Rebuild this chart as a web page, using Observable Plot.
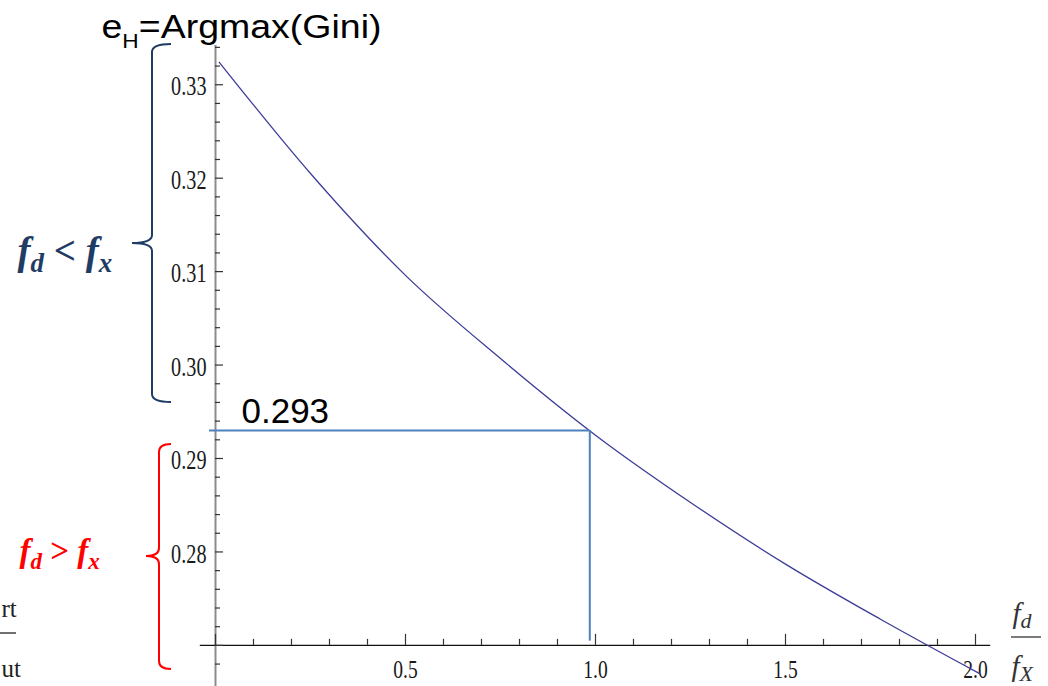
<!DOCTYPE html>
<html><head><meta charset="utf-8">
<script src="https://cdn.jsdelivr.net/npm/d3@7"></script>
<script src="https://cdn.jsdelivr.net/npm/@observablehq/plot@0.6"></script>
<style>
body{margin:0;background:#fff;}
#chart{position:relative;width:1048px;height:686px;overflow:hidden;background:#fff}
</style>
</head><body><div id="chart"></div>
<script>
// ---- data ----
const ratioX     = [0.01, 0.25, 0.5, 0.75, 1.0, 1.25, 1.5, 1.75, 2.01];
const giniArgmax = [0.3324, 0.3205, 0.3096, 0.3007, 0.2925, 0.2853, 0.2787, 0.2728, 0.2670];
const xMajorTicks = [0, 0.5, 1.0, 1.5, 2.0];
const xMinorTicks = [0.1,0.2,0.3,0.4,0.6,0.7,0.8,0.9,1.1,1.2,1.3,1.4,1.6,1.7,1.8,1.9];
const xTickValues = [0.5, 1.0, 1.5, 2.0];
const xTickLabels = ["0.5", "1.0", "1.5", "2.0"];
const yMajorTicks = [0.27, 0.28, 0.29, 0.30, 0.31, 0.32, 0.33];
const yMinorTicks = [0.268,0.272,0.274,0.276,0.278,0.282,0.284,0.286,0.288,0.292,0.294,0.296,0.298,
                     0.302,0.304,0.306,0.308,0.312,0.314,0.316,0.318,0.322,0.324,0.326,0.328,0.332,0.334];
const yTickValues = [0.28, 0.29, 0.30, 0.31, 0.32, 0.33];
const yTickLabels = ["0.28", "0.29", "0.30", "0.31", "0.32", "0.33"];
const markX = 0.985, markY = 0.293, markLabel = "0.293";
const titleParts = [["e",0],["H",1],["=Argmax(Gini)",0]];
const upperParts = [["f",0],["d",1],[" < ",0],["f",0],["x",1]];
const lowerParts = [["f",0],["d",1],[" > ",0],["f",0],["x",1]];
const numParts   = [["f",0],["d",1]];
const denParts   = [["f",0],["X",1]];

const curve = ratioX.map((x, i) => ({x, y: giniArgmax[i]}));
const ML = 199.8, MT = 45;
const at = (ax, ay) => ({frameAnchor: "top-left", dx: ax - ML, dy: ay - MT});
const join = p => p.map(d => d[0]).join("");
const serif = "'Liberation Serif','Times New Roman',serif";
const sans = "'Liberation Sans',Arial,sans-serif";

const plot = Plot.plot({
  width: 1048, height: 686,
  marginLeft: ML, marginRight: 57.8, marginTop: MT, marginBottom: 0,
  x: {domain: [-0.04, 2.04], axis: null},
  y: {domain: [0.2656, 0.3342], axis: null},
  style: {background: "#fff", overflow: "visible"},
  marks: [
    // axes
    Plot.ruleX([0], {y1: 0.2656, y2: 0.3342, stroke: "#8c8c8c", strokeWidth: 2}),
    Plot.ruleY([0.27], {x1: -0.04, x2: 2.04, stroke: "#111", strokeWidth: 1.3}),
    Plot.ruleX(xMinorTicks, {y1: 0.27, y2: 0.27, insetTop: -6, stroke: "#333", strokeWidth: 1.2}),
    Plot.ruleX(xMajorTicks, {y1: 0.27, y2: 0.27, insetTop: -11, stroke: "#333", strokeWidth: 1.2}),
    Plot.ruleY(yMinorTicks, {x1: 0, x2: 0, insetRight: -5, stroke: "#333", strokeWidth: 1.2}),
    Plot.ruleY(yMajorTicks, {x1: 0, x2: 0, insetRight: -8, stroke: "#333", strokeWidth: 1.2}),
    Plot.text(xTickValues, {x: d => d, y: 0.27, text: (d, i) => xTickLabels[i], lineAnchor: "bottom", dy: 33,
      fontFamily: serif, fontSize: 26, fill: "#1a1a1a", ariaDescription: "xticklabels"}),
    Plot.text(yTickValues, {x: 0, y: d => d, text: (d, i) => yTickLabels[i], textAnchor: "end", dx: -9, dy: 2,
      fontFamily: serif, fontSize: 27, fill: "#1a1a1a", ariaDescription: "yticklabels"}),
    // the curve
    Plot.line(curve, {x: "x", y: "y", stroke: "#3d3d99", strokeWidth: 1.3, curve: "monotone-x"}),
    // marker lines
    Plot.ruleY([markY], {x1: -0.0158, x2: markX, stroke: "#4f81bd", strokeWidth: 2}),
    Plot.ruleX([markX], {y1: markY, y2: 0.27045, stroke: "#4f81bd", strokeWidth: 2}),
    Plot.text([markLabel], {...at(241, 422), text: d => d, textAnchor: "start", lineAnchor: "bottom",
      fontFamily: sans, fontSize: 35, fill: "#000"}),
    // annotations
    Plot.text([join(titleParts)], {...at(101, 37), text: d => d, textAnchor: "start", lineAnchor: "bottom",
      fontFamily: sans, fontSize: 33, fill: "#000", ariaDescription: "title"}),
    Plot.text([join(upperParts)], {...at(17, 263), text: d => d, textAnchor: "start", lineAnchor: "bottom",
      fontFamily: serif, fontSize: 39, fontWeight: "bold", fontStyle: "italic", fill: "#1f3c64", ariaDescription: "upper"}),
    Plot.text([join(lowerParts)], {...at(19, 561), text: d => d, textAnchor: "start", lineAnchor: "bottom",
      fontFamily: serif, fontSize: 33, fontWeight: "bold", fontStyle: "italic", fill: "#ff0000", ariaDescription: "lower"}),
    Plot.text([join(numParts)], {...at(1012, 622), text: d => d, textAnchor: "start", lineAnchor: "bottom",
      fontFamily: serif, fontSize: 29, fontStyle: "italic", fill: "#333", ariaDescription: "num"}),
    Plot.text([join(denParts)], {...at(1011, 675), text: d => d, textAnchor: "start", lineAnchor: "bottom",
      fontFamily: serif, fontSize: 29, fontStyle: "italic", fill: "#333", ariaDescription: "den"}),
    Plot.text(["rt"], {...at(1, 616), text: d => d, textAnchor: "start", lineAnchor: "bottom",
      fontFamily: serif, fontSize: 25, fill: "#222"}),
    Plot.text(["ut"], {...at(1, 676), text: d => d, textAnchor: "start", lineAnchor: "bottom",
      fontFamily: serif, fontSize: 25, fill: "#222"})
  ]
});
document.getElementById("chart").appendChild(plot);

const NS = "http://www.w3.org/2000/svg";
function findText(label) {
  return plot.querySelector(`g[aria-description="${label}"] text`) || plot.querySelector(`[aria-label="${label}"] text`);
}
function rich(label, parts, subSize, shift, subItalic) {
  const t = findText(label);
  if (!t) return null;
  t.textContent = "";
  let off = 0;
  parts.forEach(([s, sub]) => {
    const ts = document.createElementNS(NS, "tspan");
    const target = sub ? shift : 0;
    if (target !== off) { ts.setAttribute("dy", target - off); off = target; }
    if (sub) { ts.setAttribute("font-size", subSize); if (!subItalic) ts.setAttribute("font-style", "normal"); }
    if (s.trim() === "<" || s.trim() === ">") ts.setAttribute("font-style", "normal");
    ts.textContent = s;
    t.appendChild(ts);
  });
  return t;
}
const tt = rich("title", titleParts, 20, 10, false);
if (tt) { tt.setAttribute("textLength", 280); tt.setAttribute("lengthAdjust", "spacingAndGlyphs"); }
rich("upper", upperParts, 27, 8, true);
rich("lower", lowerParts, 23, 7, true);
rich("num", numParts, 22, 5, true);
rich("den", denParts, 22, 5, true);

// condensed tick labels
plot.querySelectorAll('g[aria-description="xticklabels"] text, g[aria-description="yticklabels"] text').forEach(t => {
  const w = t.getComputedTextLength();
  t.setAttribute("textLength", (w * 0.75).toFixed(1));
  t.setAttribute("lengthAdjust", "spacingAndGlyphs");
});

// decorations: braces and fraction bars
const svg = d3.select(plot);
const deco = svg.append("g").attr("fill", "none");
deco.append("path").attr("stroke", "#1f3c64").attr("stroke-width", 2)
  .attr("d", "M171,44 Q152,44 152,52 L152,235 Q152,243 132,243 Q152,243 152,251 L152,394 Q152,402 171,402");
deco.append("path").attr("stroke", "#ff0000").attr("stroke-width", 2)
  .attr("d", "M171,444 Q159,444 159,452 L159,548 Q159,556 146,556 Q159,556 159,564 L159,661 Q159,669 171,669");
deco.append("line").attr("x1", 1011).attr("x2", 1041).attr("y1", 637).attr("y2", 637).attr("stroke", "#333").attr("stroke-width", 1.3);
deco.append("line").attr("x1", 0).attr("x2", 16).attr("y1", 633).attr("y2", 633).attr("stroke", "#222").attr("stroke-width", 1.3);
</script>
</body></html>
